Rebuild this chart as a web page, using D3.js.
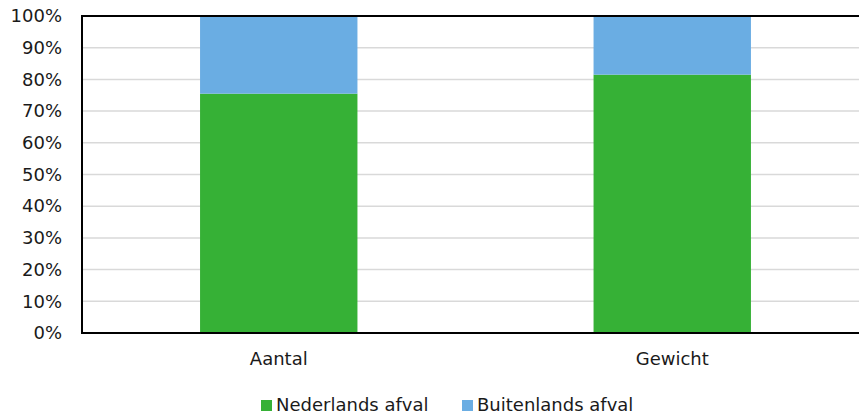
<!DOCTYPE html>
<html>
<head>
<meta charset="utf-8">
<script src="https://cdn.jsdelivr.net/npm/d3@7"></script>
<style>
  body { margin: 0; background: #fff; }
  svg { display: block; font-family: "DejaVu Sans", Verdana, sans-serif; }
</style>
</head>
<body>
<div id="chart"></div>
<script>
// data
var categories = ["Aantal", "Gewicht"];
var seriesNames = ["Nederlands afval", "Buitenlands afval"];
var nederlands = [75.5, 81.5];
var buitenlands = [24.5, 18.5];
var yTicks = [0, 10, 20, 30, 40, 50, 60, 70, 80, 90, 100];
var colors = ["#36b136", "#6aade3"];

var svgWidth = 859, svgHeight = 414;
var margin = {top: 16, left: 82, bottom: 81, right: -10};
var width = svgWidth - margin.left - margin.right;
var height = svgHeight - margin.top - margin.bottom;

var svg = d3.select("#chart").append("svg")
  .attr("width", svgWidth)
  .attr("height", svgHeight);

var chartGroup = svg.append("g")
  .attr("transform", `translate(${margin.left}, ${margin.top})`);

var x = d3.scaleBand().domain(categories).range([0, width]).paddingInner(0.6).paddingOuter(0.3);
var y = d3.scaleLinear().domain([0, 100]).range([height, 0]);

// gridlines
chartGroup.selectAll(".grid").data(yTicks.slice(1)).enter().append("line")
  .attr("x1", 0).attr("x2", width)
  .attr("y1", d => y(d)).attr("y2", d => y(d))
  .attr("stroke", "#d9d9d9").attr("stroke-width", 1.5);

// stacked bars
var rows = categories.map((c, i) => ({cat: c, "Nederlands afval": nederlands[i], "Buitenlands afval": buitenlands[i]}));
var stack = d3.stack().keys(seriesNames)(rows);

chartGroup.selectAll(".layer").data(stack).enter().append("g")
  .attr("fill", (d, i) => colors[i])
  .selectAll("rect").data(d => d).enter().append("rect")
  .attr("x", d => x(d.data.cat))
  .attr("width", x.bandwidth())
  .attr("y", d => y(d[1]))
  .attr("height", d => y(d[0]) - y(d[1]));

// frame
chartGroup.append("rect")
  .attr("x", 0).attr("y", 0).attr("width", width).attr("height", height)
  .attr("fill", "none").attr("stroke", "#000").attr("stroke-width", 2);

// y axis labels
var leftAxis = d3.axisLeft(y).tickValues(yTicks).tickFormat(d => d + "%").tickSize(0).tickPadding(20);
var yAxis = chartGroup.append("g").call(leftAxis);
yAxis.select(".domain").remove();
yAxis.selectAll("text").attr("font-size", 18).attr("fill", "#1a1a1a")
  .attr("font-family", "DejaVu Sans, Verdana, sans-serif");

// x axis labels
var bottomAxis = d3.axisBottom(x).tickSize(0).tickPadding(19);
var xAxis = chartGroup.append("g").attr("transform", `translate(0, ${height})`).call(bottomAxis);
xAxis.select(".domain").remove();
xAxis.selectAll("text").attr("font-size", 18).attr("fill", "#1a1a1a")
  .attr("font-family", "DejaVu Sans, Verdana, sans-serif");

// legend
var legendX = [261, 462];
var legend = svg.selectAll(".legend").data(seriesNames).enter().append("g")
  .attr("transform", (d, i) => `translate(${legendX[i]}, 400)`);
legend.append("rect").attr("width", 11).attr("height", 11).attr("fill", (d, i) => colors[i]);
legend.append("text").attr("x", 15).attr("y", 11)
  .attr("font-size", 18).attr("fill", "#1a1a1a")
  .text(d => d);
</script>
</body>
</html>
